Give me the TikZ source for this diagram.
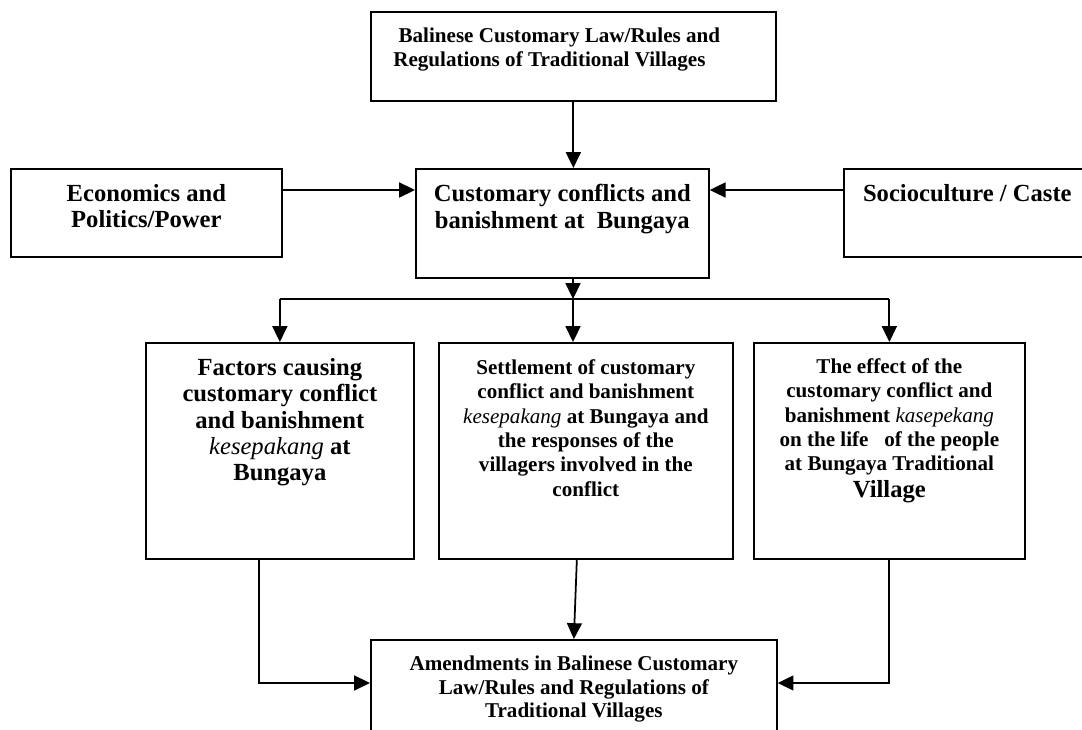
\documentclass[tikz,border=0pt]{standalone}
\usepackage{fontspec}
\setmainfont{Liberation Serif}
\usetikzlibrary{arrows.meta,positioning}

\tikzset{
  box/.style={draw, line width=1pt, inner sep=0pt, anchor=north west},
  txt/.style={font=\bfseries\fontsize{12}{13.2}\selectfont, align=center, inner sep=0pt},
  widetxt/.style={font=\bfseries\fontsize{12}{13.9}\selectfont, align=center, inner sep=0pt},
  bigtxt/.style={font=\bfseries\fontsize{14}{15}\selectfont, align=center, inner sep=0pt},
  arr/.style={line width=1pt, -{Triangle[length=9pt,width=8.5pt]}},
}
\newcommand{\kw}[1]{{\mdseries\itshape #1}}

\begin{document}
\begin{tikzpicture}[x=0.02cm,y=-0.02cm]
  \useasboundingbox (0,0) rectangle (1082,730);

  % ---- upper part: customary law and the three sources of conflict ----
  \node[box, minimum width=8.1cm, minimum height=1.78cm] (law) at (370,11) {};
  \node[txt, align=left, below right=0.34cm and 0.46cm of law.north west] (lawtxt)
    {\hspace*{0.25em}Balinese Customary Law/Rules and\\Regulations of Traditional Villages};

  \node[box, minimum width=5.86cm, minimum height=2.18cm] (conf) at (415,168) {};
  \node[bigtxt, below=0.32cm of conf.north] (conftxt)
    {Customary conflicts and\\banishment at~ Bungaya};

  \node[box, minimum width=5.42cm, minimum height=1.76cm] (econ) at (10,168) {};
  \node[bigtxt, below=0.32cm of econ.north] (econtxt) {Economics and\\Politics/Power};

  % right box runs past the edge of the page
  \node[box, minimum width=4.94cm, minimum height=1.76cm] (socio) at (843,168) {};
  \node[bigtxt, below=0.32cm of socio.north] (sociotxt) {Socioculture / Caste};

  \draw[arr] (law.south) -- (law.south |- conf.north);
  \draw[arr] ([yshift=-0.44cm]econ.north east) -- ([yshift=-0.44cm]conf.north west);
  \draw[arr] ([yshift=-0.44cm]socio.north west) -- ([yshift=-0.44cm]conf.north east);

  % ---- lower part: the three studied questions ----
  \node[box, minimum width=5.36cm, minimum height=4.32cm] (factor) at (145,342) {};
  \node[bigtxt, below=0.32cm of factor.north] (factortxt)
    {Factors causing\\customary conflict\\and banishment\\\kw{kesepakang} at\\Bungaya};

  \node[box, minimum width=5.88cm, minimum height=4.32cm] (settle) at (438,342) {};
  \node[widetxt, below=0.34cm of settle.north] (settletxt)
    {Settlement of customary\\conflict and banishment\\\kw{kesepakang} at Bungaya and\\the responses of the\\villagers involved in the\\conflict};

  \node[box, minimum width=5.42cm, minimum height=4.32cm] (effect) at (753,342) {};
  \node[widetxt, below=0.32cm of effect.north] (effecttxt)
    {The effect of the\\customary conflict and\\banishment \kw{kasepekang}\\on the life~~ of the people\\at Bungaya Traditional\\[1.5pt]{\fontsize{14}{15}\selectfont Village}};

  % branching from the conflict box
  \coordinate (split) at (573,299);
  \draw[arr] (conf.south -| split) -- (split);
  \draw[line width=1pt] (factor.north |- split) -- (effect.north |- split);
  \draw[arr] (factor.north |- split) -- (factor.north);
  \draw[arr] (split) -- (split |- settle.north);
  \draw[arr] (effect.north |- split) -- (effect.north);

  % ---- result: amendments (cut off at the bottom of the page) ----
  \node[box, minimum width=8.12cm, minimum height=2.0cm] (amend) at (370,639) {};
  \node[txt, below=0.34cm of amend.north] (amendtxt)
    {Amendments in Balinese Customary\\Law/Rules and Regulations of\\Traditional Villages};

  \draw[arr] ([xshift=-0.42cm]factor.south) |- ([yshift=-0.88cm]amend.north west);
  \draw[arr] ([xshift=-0.18cm]settle.south) -- (amend.north);
  \draw[arr] (effect.south) |- ([yshift=-0.88cm]amend.north east);
\end{tikzpicture}
\end{document}
